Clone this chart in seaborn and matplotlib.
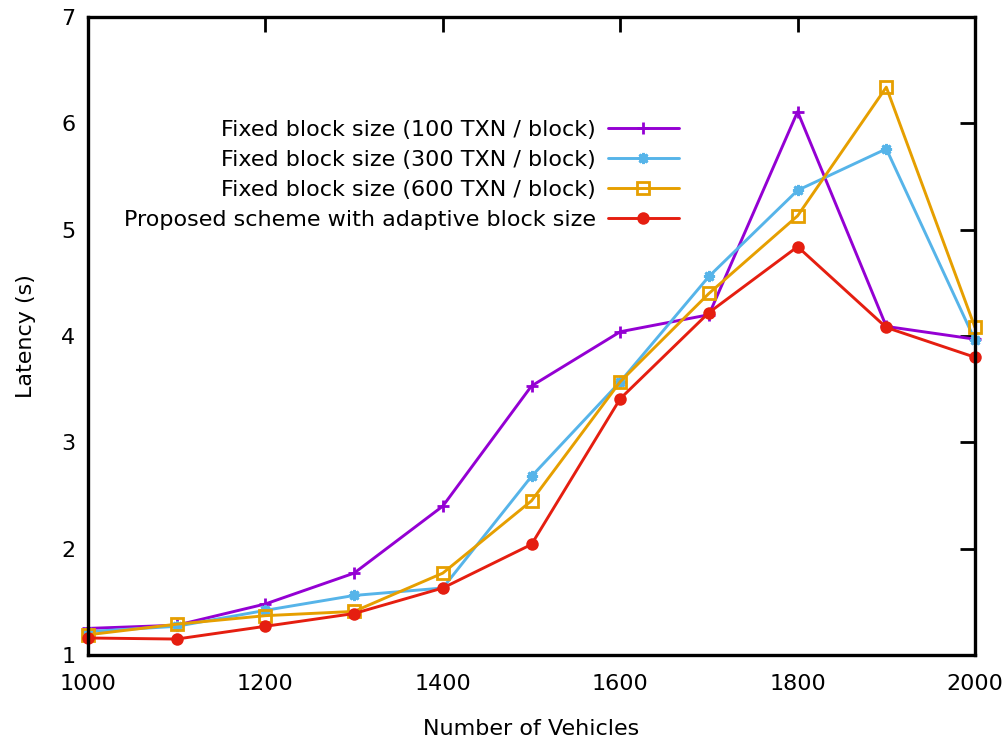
import matplotlib
matplotlib.use("Agg")
import matplotlib.pyplot as plt
import seaborn as sns
import pandas as pd

vehicles = [1000, 1100, 1200, 1300, 1400, 1500, 1600, 1700, 1800, 1900, 2000]
fixed_100 = [1.25, 1.28, 1.48, 1.77, 2.40, 3.53, 4.04, 4.20, 6.11, 4.09, 3.97]
fixed_300 = [1.22, 1.27, 1.42, 1.56, 1.63, 2.68, 3.57, 4.56, 5.37, 5.76, 3.96]
fixed_600 = [1.19, 1.29, 1.37, 1.41, 1.77, 2.45, 3.57, 4.40, 5.13, 6.34, 4.08]
proposed = [1.16, 1.15, 1.27, 1.39, 1.63, 2.04, 3.41, 4.22, 4.84, 4.08, 3.80]

labels = [
    "Fixed block size (100 TXN / block)",
    "Fixed block size (300 TXN / block)",
    "Fixed block size (600 TXN / block)",
    "Proposed scheme with adaptive block size",
]
series = [fixed_100, fixed_300, fixed_600, proposed]
colors = ["#9400D3", "#56B4E9", "#E69F00", "#E51E10"]
markers = ["+", (8, 2, 0), "s", "o"]

sns.set_theme(style="white")
plt.rcParams["font.family"] = ["DejaVu Sans"]
plt.rcParams["text.color"] = "black"
plt.rcParams["axes.labelcolor"] = "black"
plt.rcParams["xtick.color"] = "black"
plt.rcParams["ytick.color"] = "black"

FS = 16

fig = plt.figure(figsize=(10.08, 7.44), dpi=100)
ax = fig.add_axes([88 / 1008, 1 - 655 / 744, (975 - 88) / 1008, (655 - 17) / 744])

for lab, vals, col, mk in zip(labels, series, colors, markers):
    df = pd.DataFrame({"x": vehicles, "y": vals})
    kw = dict(marker=mk, linewidth=2.1, color=col, label=lab, clip_on=False)
    if mk == "s":
        kw.update(markersize=8.5, markerfacecolor="none", markeredgecolor=col, markeredgewidth=2)
    elif mk == "o":
        kw.update(markersize=9, markeredgewidth=0)
    else:
        kw.update(markersize=8, markeredgewidth=2, markeredgecolor=col)
    sns.lineplot(data=df, x="x", y="y", ax=ax, **kw)

ax.set_xlim(1000, 2000)
ax.set_ylim(1, 7)
ax.set_xticks(range(1000, 2001, 200))
ax.set_yticks(range(1, 8))
ax.tick_params(axis="both", which="both", direction="in", length=11, width=2,
               labelsize=FS, top=True, right=True, color="black")
ax.tick_params(axis="x", pad=14)
ax.tick_params(axis="y", pad=9)
for sp in ax.spines.values():
    sp.set_visible(True)
    sp.set_color("black")
    sp.set_linewidth(2.4)
ax.set_xlabel("Number of Vehicles", fontsize=FS, labelpad=18)
ax.set_ylabel("Latency (s)", fontsize=FS, labelpad=18)

leg = ax.legend(loc="upper right", bbox_to_anchor=(679 / 1008, 1 - 120 / 744),
                bbox_transform=fig.transFigure, frameon=False, markerfirst=False,
                fontsize=FS, handlelength=3.2, labelspacing=0.45, handletextpad=0.55,
                borderaxespad=0, borderpad=0)

fig.savefig("out.png", dpi=100)
